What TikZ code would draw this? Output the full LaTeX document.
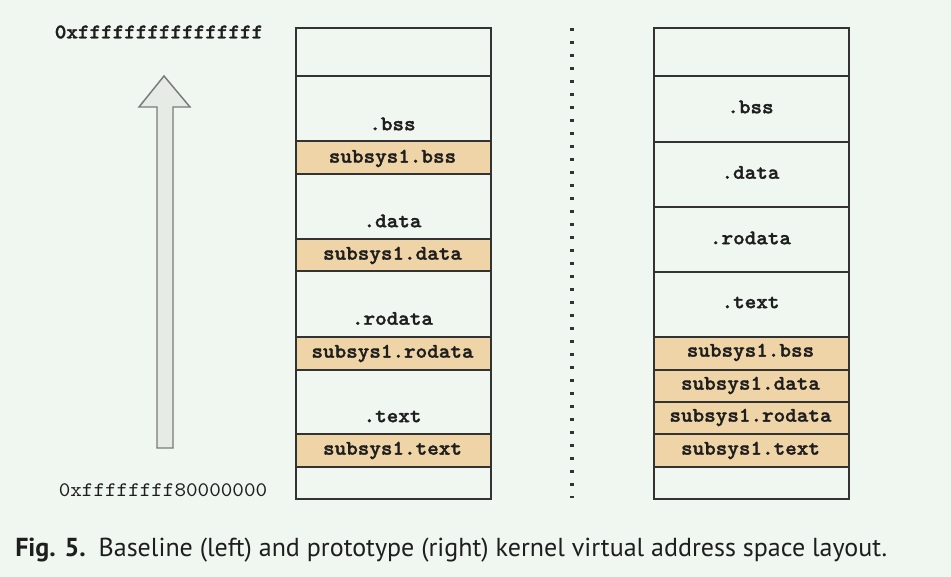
\documentclass[tikz,border=0pt]{standalone}
\usepackage{fontspec}
\newfontfamily\monofont[BoldFont=lmmonolt10-bold.otf,BoldFeatures={FakeBold=1.6},FakeStretch=1.067]{lmmono10-regular.otf}
\newfontfamily\capfont{PT Sans}
\definecolor{bgc}{HTML}{F0F6F0}
\definecolor{tanc}{HTML}{EED4A6}
\definecolor{linec}{HTML}{333333}
\definecolor{arrowline}{HTML}{7A7A7A}
\definecolor{arrowfill}{HTML}{E6EBE6}
\definecolor{textc}{HTML}{1E1E1E}
\begin{document}
\begin{tikzpicture}[x=0.75pt,y=-0.75pt,
  seg/.style={draw=linec,line width=1.3pt,inner sep=0pt,anchor=north west,minimum width=146.25pt},
  white/.style={seg,fill=bgc},
  subsys/.style={seg,fill=tanc},
  lbl/.style={font=\monofont\bfseries\fontsize{15.5}{17}\selectfont,text=textc,inner sep=0pt},
  addr/.style={font=\monofont\fontsize{15.5}{17}\selectfont,text=textc,inner sep=0pt}]
\useasboundingbox[fill=bgc] (0,0) rectangle (951,577);
% left column
\node[white,minimum height=36pt] (l0) at (295,27) {};
\node[white,minimum height=48.75pt] (l1) at (295,75) {};
\node[subsys,minimum height=24.75pt] (l2) at (295,140) {};
\node[white,minimum height=48.75pt] (l3) at (295,173) {};
\node[subsys,minimum height=24pt] (l4) at (295,238) {};
\node[white,minimum height=49.5pt] (l5) at (295,270) {};
\node[subsys,minimum height=24.75pt] (l6) at (295,336) {};
\node[white,minimum height=48pt] (l7) at (295,369) {};
\node[subsys,minimum height=24.75pt] (l8) at (295,433) {};
\node[white,minimum height=24pt] (l9) at (295,466) {};
\node[lbl] (t1) at (392.5,124) {.bss};
\node[lbl] (t2) at (392.5,158.5) {subsys1.bss};
\node[lbl] (t3) at (392.5,221) {.data};
\node[lbl] (t4) at (392.5,255.5) {subsys1.data};
\node[lbl] (t5) at (392.5,318.5) {.rodata};
\node[lbl] (t6) at (392.5,353.5) {subsys1.rodata};
\node[lbl] (t7) at (392.5,416.5) {.text};
\node[lbl] (t8) at (392.5,450.5) {subsys1.text};
% right column
\node[white,minimum height=36pt] (r0) at (653,27) {};
\node[white,minimum height=49.5pt] (r1) at (653,75) {};
\node[white,minimum height=48.75pt] (r2) at (653,141) {};
\node[white,minimum height=48.75pt] (r3) at (653,206) {};
\node[white,minimum height=48.75pt] (r4) at (653,271) {};
\node[subsys,minimum height=24.75pt] (r5) at (653,336) {};
\node[subsys,minimum height=24pt] (r6) at (653,369) {};
\node[subsys,minimum height=24pt] (r7) at (653,401) {};
\node[subsys,minimum height=24.75pt] (r8) at (653,433) {};
\node[white,minimum height=24pt] (r9) at (653,466) {};
\node[lbl] (s1) at (750.5,107) {.bss};
\node[lbl] (s2) at (750.5,172.5) {.data};
\node[lbl] (s3) at (750.5,238) {.rodata};
\node[lbl] (s4) at (750.5,302.5) {.text};
\node[lbl] (s5) at (750.5,352.5) {subsys1.bss};
\node[lbl] (s6) at (750.5,385.5) {subsys1.data};
\node[lbl] (s7) at (750.5,417.5) {subsys1.rodata};
\node[lbl] (s8) at (750.5,450.5) {subsys1.text};
% address labels
\node[lbl] (atop) at (159,32) {0xffffffffffffffff};
\node[addr] (abot) at (163,490) {0xffffffff80000000};
% arrow
\draw[draw=arrowline,fill=arrowfill,line width=1.1pt,line join=miter]
  (164,76) -- (190,107) -- (173,107) -- (173,448) -- (157,448) -- (157,107) -- (139,107) -- cycle;
% dotted separator
\coordinate (dtop) at (572,28);
\coordinate (dbot) at (572,498);
\draw[linec,line width=2.4pt,dash pattern=on 2.4pt off 7.35pt] (dtop) -- (dbot);
% caption
\node[anchor=base west,inner sep=0pt,text=textc,font=\capfont\fontsize{19.5}{22}\selectfont] (cap) at (15,557)
  {\textbf{Fig. 5.}\hspace{0.5em}Baseline (left) and prototype (right) kernel virtual address space layout.};
\end{tikzpicture}
\end{document}
